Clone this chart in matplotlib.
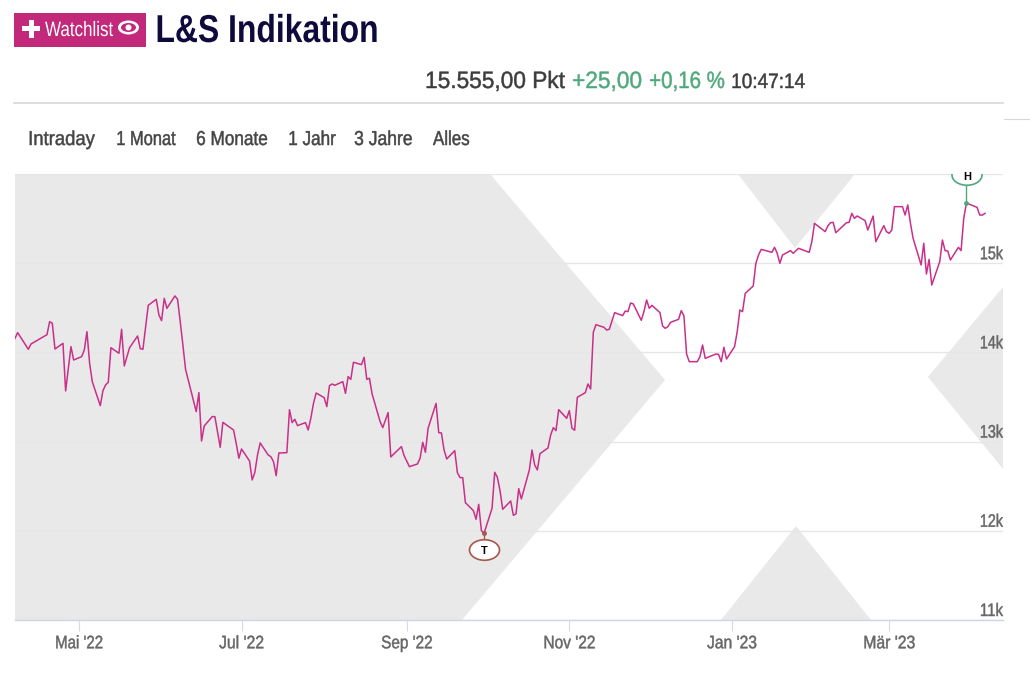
import numpy as np
import matplotlib
matplotlib.use("Agg")
import matplotlib.pyplot as plt
import matplotlib.dates as mdates
import matplotlib.patheffects as pe
from matplotlib.patches import Ellipse, Rectangle, Polygon
from matplotlib.transforms import Affine2D

plt.rcParams['font.family'] = ['Liberation Sans', 'DejaVu Sans']

# days since 7 Apr 2022
days = [0, 1, 5, 6, 12, 13, 14, 15, 18, 19, 21, 22, 25, 26, 27, 28, 29, 32, 33, 34, 35, 36, 39, 40, 41, 43,
        46, 47, 48, 50, 53, 54, 55, 56, 57, 60, 61, 62, 63, 64, 68, 69, 70, 71, 74, 75, 77, 78, 82, 83, 84,
        85, 88, 89, 90, 91, 92, 95, 96, 97, 98, 99, 102, 103, 104, 105, 106, 109, 110, 111, 112, 113, 116,
        117, 118, 119, 120, 123, 124, 125, 126, 127, 130, 131, 132, 133, 134, 137, 138, 140, 141, 145, 146,
        148, 151, 152, 153, 154, 155, 158, 159, 160, 161, 162, 165, 166, 167, 168, 169, 172, 173, 174, 175,
        176, 179, 180, 181, 182, 183, 186, 187, 188, 189, 190, 193, 194, 195, 196, 197, 200, 201, 202, 203,
        204, 207, 208, 209, 210, 211, 214, 215, 216, 217, 218, 221, 222, 223, 225, 228, 229, 230, 231, 232,
        235, 236, 237, 238, 239, 242, 243, 244, 245, 246, 249, 250, 251, 252, 253, 256, 257, 258, 259, 263,
        264, 265, 266, 267, 270, 271, 272, 273, 274, 277, 278, 279, 280, 284, 285, 286, 287, 288, 291, 292,
        294, 298, 299, 300, 304, 305, 306, 307, 308, 312, 313, 314, 315, 316, 319, 320, 322, 323, 326, 327,
        328, 329, 330, 333, 334, 335, 336, 337, 340, 341, 342, 343, 344, 347, 348, 349, 350, 351, 354, 355,
        356, 357, 361, 362, 363, 364]
prices = [14158, 14222, 14035, 14094, 14199, 14345, 14326, 14038, 14102, 13568, 14065, 13915, 13952, 14027,
          14233, 13878, 13672, 13403, 13571, 13635, 13665, 14053, 13990, 14259, 13848, 14053, 14184, 14042,
          14035, 14528, 14595, 14420, 14356, 14606, 14494, 14633, 14595, 14345, 14083, 13810, 13336, 13549,
          13007, 13175, 13280, 13280, 12936, 13216, 13130, 12981, 12813, 12917, 12783, 12570, 12656, 12850,
          12985, 12850, 12831, 12775, 12618, 12872, 12876, 13358, 13213, 13250, 13179, 13213, 13130, 13261,
          13429, 13545, 13493, 13392, 13627, 13646, 13631, 13672, 13541, 13728, 13698, 13889, 13863, 13945,
          13698, 13710, 13534, 13224, 13157, 13325, 12828, 12944, 12843, 12719, 12749, 12813, 12992, 12880,
          13149, 13429, 13100, 13097, 12906, 12805, 12899, 12652, 12596, 12596, 12316, 12226, 12129, 12297,
          12002, 11972, 12252, 12656, 12600, 12450, 12241, 12334, 12174, 12189, 12473, 12357, 12682, 12906,
          12738, 12682, 12865, 12929, 13074, 13157, 13123, 13358, 13261, 13347, 13149, 13127, 13497, 13549,
          13646, 13590, 14225, 14311, 14281, 14251, 14259, 14446, 14412, 14464, 14457, 14554, 14543, 14360,
          14457, 14588, 14494, 14528, 14446, 14296, 14270, 14289, 14337, 14371, 14468, 14412, 13982, 13896,
          13896, 13952, 14083, 13933, 13982, 13978, 13896, 14057, 13926, 14064, 14232, 14475, 14457, 14662,
          14744, 14999, 15092, 15155, 15122, 15178, 15111, 14999, 15092, 15141, 15111, 15167, 15122, 15241,
          15447, 15354, 15417, 15454, 15458, 15342, 15454, 15458, 15559, 15503, 15529, 15477, 15372, 15529,
          15241, 15421, 15354, 15335, 15372, 15634, 15634, 15540, 15653, 15447, 15279, 14980, 15223, 14879,
          15043, 14756, 15017, 15260, 15141, 15137, 15036, 15178, 15141, 15503, 15675, 15626, 15540, 15540,
          15559]
low_day, low_price = 176, 11972
high_day, high_price = 357, 15675

x_tick_dates = ['2022-05-01', '2022-07-01', '2022-09-01', '2022-11-01', '2023-01-01', '2023-03-01']
x_tick_labels = ["Mai '22", "Jul '22", "Sep '22", "Nov '22", "Jan '23", "Mär '23"]
y_ticks = [11000, 12000, 13000, 14000, 15000, 16000]
y_tick_labels = ['11k', '12k', '13k', '14k', '15k', '']
tabs = ['Intraday', '1 Monat', '6 Monate', '1 Jahr', '3 Jahre', 'Alles']
tab_x = [28, 116, 196, 288, 354, 433]
tab_w = [65, 58, 70, 46, 57, 36]
x_label_w = [46, 44, 50, 50, 49, 50]

PINK = '#c9308a'
GREEN = '#4fa87c'
GREY_BG = '#e9e9e9'
DARK = '#3c3c3c'

W, H = 1030, 677
L, R, T, B = 15, 1003, 174, 620


class Fit(pe.AbstractPathEffect):
    # the site uses a condensed face, so squeeze the glyphs to a width in pixels
    def __init__(self, width, anchor=0.0, stroke=0.35):
        super().__init__()
        self.width = width
        self.anchor = anchor
        self.stroke = stroke

    def draw_path(self, renderer, gc, tpath, affine, rgbFace=None):
        ext = tpath.get_extents()
        sx = self.width / (ext.width * affine.get_matrix()[0, 0])
        x0 = ext.x0 + ext.width * self.anchor
        squeeze = Affine2D().translate(-x0, 0).scale(sx, 1).translate(x0, 0)
        gc2 = renderer.new_gc()
        gc2.copy_properties(gc)
        gc2.set_foreground(rgbFace)
        gc2.set_linewidth(self.stroke)
        renderer.draw_path(gc2, tpath, squeeze + affine, rgbFace)
        gc2.restore()


start = mdates.date2num(np.datetime64('2022-04-07'))
dates = start + np.array(days)

fig = plt.figure(figsize=(W / 100, H / 100), dpi=100)
ax = fig.add_axes([L / W, 1 - B / H, (R - L) / W, (B - T) / H])

# grey logo in the background, in pixels of the page
shapes = [
    [(15, 174), (490, 174), (665, 380), (462, 620), (15, 620)],
    [(738, 174), (855, 174), (795, 248)],
    [(1003, 287), (928, 377), (1003, 469)],
    [(721, 620), (796, 526), (871, 620)],
]
for s in shapes:
    pts = [((x - L) / (R - L), (B - y) / (B - T)) for x, y in s]
    ax.add_patch(Polygon(pts, closed=True, transform=ax.transAxes, fc=GREY_BG, ec='none', zorder=0))

ax.plot(dates, prices, color=PINK, lw=1.1, zorder=3, solid_joinstyle='round')
ax.set_xlim(start, start + (R - L) / 2.665)
ax.set_ylim(11000, 16000)

ax.set_yticks(y_ticks)
ax.set_yticklabels(y_tick_labels)
ax.yaxis.tick_right()
ax.tick_params(axis='y', length=0, pad=0, labelsize=13, labelcolor='#666666')
for t in ax.get_yticklabels():
    t.set_ha('right')
    t.set_va('bottom')
    t.set_path_effects([Fit(22, 1.0)])
ax.grid(axis='y', color='#e6e6e6', lw=1, zorder=1)
ax.set_axisbelow(True)

ax.set_xticks(mdates.date2num(np.array(x_tick_dates, dtype='datetime64[D]')))
ax.set_xticklabels(x_tick_labels)
ax.tick_params(axis='x', length=8, width=0.8, color='#d5daeb', pad=3, labelsize=13, labelcolor='#666666')
for t, w in zip(ax.get_xticklabels(), x_label_w):
    t.set_path_effects([Fit(w, 0.5)])
for side in ['top', 'left', 'right']:
    ax.spines[side].set_visible(False)
ax.spines['bottom'].set_color('#ccd6eb')
ax.spines['bottom'].set_linewidth(1)
ax.patch.set_alpha(0)

# stems of the low and high markers
ax.plot([start + low_day] * 2, [low_price, 11000 + (B - 540) / 0.0892], color='#a8574a', lw=1, zorder=4)
ax.plot([start + low_day], [low_price], 'o', ms=2.5, color='#a8574a', zorder=4)
ax.plot([start + high_day] * 2, [high_price, 11000 + (B - 184) / 0.0892], color=GREEN, lw=1, zorder=4)
ax.plot([start + high_day], [high_price], 'o', ms=2.5, color=GREEN, zorder=4)

# everything else sits on a page overlay measured in pixels
page = fig.add_axes([0, 0, 1, 1])
page.set_xlim(0, W)
page.set_ylim(H, 0)
page.axis('off')

page.add_patch(Rectangle((14, 13), 132, 34, fc='#c2297a', ec='none'))
page.add_patch(Rectangle((22, 26), 18, 5, fc='white', ec='none'))
page.add_patch(Rectangle((28.5, 19.5), 5, 18, fc='white', ec='none'))
page.text(45, 36, 'Watchlist', color='white', fontsize=15, va='baseline', ha='left',
          path_effects=[Fit(68, stroke=0)])
page.add_patch(Ellipse((128.5, 27.5), 21, 14, fc='white', ec='none'))
page.add_patch(Ellipse((128.5, 27.5), 15, 9, fc='#c2297a', ec='none'))
page.add_patch(Ellipse((128.5, 27.5), 6, 6, fc='white', ec='none'))
page.text(155, 42, 'L&S Indikation', color='#0e0a3c', fontsize=28, fontweight='bold', va='baseline', ha='left',
          path_effects=[Fit(219, stroke=0)])

page.text(425, 88, '15.555,00 Pkt', color=DARK, fontsize=17, va='baseline', ha='left', path_effects=[Fit(138)])
page.text(572, 88, '+25,00', color=GREEN, fontsize=17, va='baseline', ha='left', path_effects=[Fit(68)])
page.text(649, 88, '+0,16 %', color=GREEN, fontsize=17, va='baseline', ha='left', path_effects=[Fit(74)])
page.text(731, 88, '10:47:14', color=DARK, fontsize=15, va='baseline', ha='left', path_effects=[Fit(72)])
page.plot([14, 1003], [103, 103], color='#d8d8d8', lw=1.2)
page.plot([1004, 1030], [119, 119], color='#d8d8d8', lw=0.8)

for name, x, w in zip(tabs, tab_x, tab_w):
    page.text(x, 145, name, color='#444444', fontsize=14.5, va='baseline', ha='left', path_effects=[Fit(w)])

clip = Rectangle((L, T), R - L, B - T, transform=page.transData)
low_mark = Ellipse((484.5, 550), 30, 20.5, fc='white', ec='#a8574a', lw=1.2)
high_mark = Ellipse((967, 175), 30, 20.5, fc='white', ec=GREEN, lw=1.2)
page.add_patch(low_mark)
page.add_patch(high_mark)
high_mark.set_clip_path(clip)
page.text(484.5, 551, 'T', color='black', fontsize=8, fontweight='bold', ha='center', va='center')
page.text(967, 177.5, 'H', color='black', fontsize=8, fontweight='bold', ha='center', va='center')

fig.savefig('out.png', dpi=100)
